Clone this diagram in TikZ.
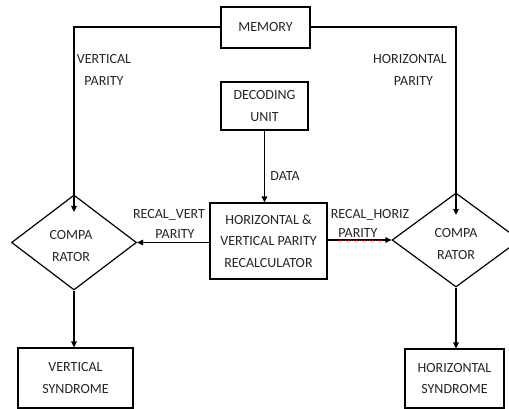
\documentclass[tikz,border=0pt]{standalone}
\usepackage{fontspec}
\setmainfont{Carlito}
\usetikzlibrary{shapes.geometric,arrows.meta,calc}
\begin{document}
\begin{tikzpicture}[x=1pt,y=-1pt,
  every node/.style={font=\fontsize{14}{21.5}\selectfont, text=black!85},
  box/.style={draw, line width=1.2pt, inner sep=0pt, align=center},
  cmp/.style={draw, diamond, line width=1.2pt, inner sep=0pt},
  lbl/.style={inner sep=0pt, align=center},
  arr/.style={line width=1.2pt, -{Triangle[length=6pt,width=5.5pt]}},
  ln/.style={line width=1.2pt}]
\useasboundingbox (0,0) rectangle (509,409);
\clip (0,0) rectangle (509,409);
% boxes
\node[box, minimum width=89pt, minimum height=41pt] (mem) at (265.5,27.5) {MEMORY};
\node[box, minimum width=87pt, minimum height=48pt] (dec) at (264.5,106) {DECODING\\UNIT};
\node[box, minimum width=117pt, minimum height=76pt] (rec) at (268.5,241) {HORIZONTAL \&\\VERTICAL PARITY\\RECALCULATOR};
\node[box, minimum width=115pt, minimum height=60pt] (vs) at (75.5,378) {VERTICAL\\SYNDROME};
\node[box, minimum width=99pt, minimum height=59pt] (hs) at (454.5,378.5) {HORIZONTAL\\SYNDROME};
% comparators
\node[cmp, minimum width=125pt, minimum height=95pt] (cl) at (74,242.5) {};
\node[cmp, minimum width=128pt, minimum height=94pt] (cr) at (456,240) {};
\node[lbl] (clt) at (71,246) {COMPA\\RATOR};
\node[lbl] (crt) at (456,244) {COMPA\\RATOR};
% free ends
\coordinate (clin) at (74,212);
\coordinate (crin) at (456,215);
% connectors
\draw[arr] (mem.west |- 0,27) -| (clin);
\draw[arr] (mem.east |- 0,27) -| (crin);
\draw[arr] (dec.south) -- (dec.south |- rec.north);
\draw[arr] (rec.west |- cl.east) -- (cl.east);
\draw[arr] (rec.east |- cr.west) -- (cr.west);
\draw[arr] (cl.south) -- (cl.south |- vs.north);
\draw[arr] (cr.south) -- (cr.south |- hs.north);
% labels
\node[lbl] (vp) at (104,70) {VERTICAL\\PARITY};
\node[lbl] (hp) at (410,70) {HORIZONTAL\\\hspace*{7pt}PARITY};
\node[lbl] (data) at (285,176) {DATA};
\node[lbl] (rv) at (169,215) {RECAL\_VERT};
\node[lbl] (rvp) at (175,234) {PARITY};
\node[lbl] (rh) at (370,215) {RECAL\_HORIZ};
\node[lbl] (rhp) at (358,233) {PARITY};
\draw[red!80!black, line width=0.6pt, densely dotted] (rhp.south west) ++(0,2.5) -- ++(44,0);
\end{tikzpicture}
\end{document}
